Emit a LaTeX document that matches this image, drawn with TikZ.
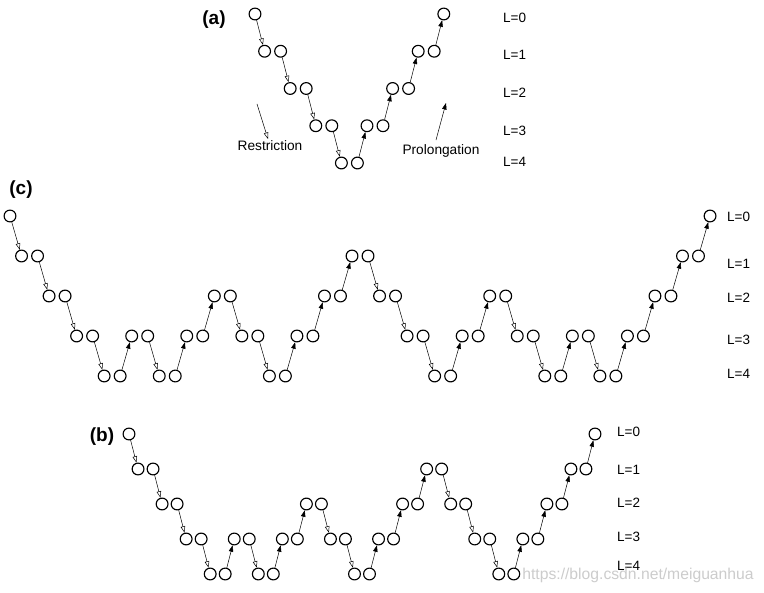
\documentclass[tikz,border=0pt]{standalone}
\usepackage{fontspec}
\setmainfont{Liberation Sans}
\usetikzlibrary{arrows.meta}

\tikzset{
  lvlnode/.style={circle, draw, line width=1.15pt, minimum size=11.8pt, inner sep=0pt},
  restrict/.style={line width=0.5pt, -{Triangle[open, length=6.5pt, width=4.5pt]}},
  prolong/.style={line width=0.5pt, -{Triangle[length=6.5pt, width=4.5pt]}},
  levlabel/.style={anchor=west, inner sep=0pt, font=\fontsize{13.5}{15}\selectfont},
  panel/.style={inner sep=0pt, font=\fontsize{19}{21}\selectfont\bfseries},
  caption/.style={inner sep=0pt, font=\fontsize{13.7}{15}\selectfont}
}

% name, x0, y0, period, gap, level step, levels (last one 0)
\newcommand{\drawcycle}[7]{%
  \node[lvlnode] (#1-0-r) at (#2,#3) {};
  \foreach \lvl [count=\k, remember=\lvl as \prev (initially 0), remember=\k as \j (initially 0)] in {#7} {
    \node[lvlnode] (#1-\k-l) at ({#2+\k*#4-#5},{#3+\lvl*#6}) {};
    \ifnum\lvl>0
      \node[lvlnode] (#1-\k-r) at ({#2+\k*#4},{#3+\lvl*#6}) {};
    \fi
    \ifnum\lvl>\prev
      \draw[restrict] (#1-\j-r) -- (#1-\k-l);
    \else
      \draw[prolong] (#1-\j-r) -- (#1-\k-l);
    \fi
  }%
}

\begin{document}
\begin{tikzpicture}[x=1pt, y=-1pt, line cap=round, line join=round]
  \useasboundingbox (0,0) rectangle (764,593);
  % (a) V-cycle
  \node[panel] (a-name) at (214,20) {(a)};
  \drawcycle{a}{255}{14}{25.6}{16}{37.25}{1,2,3,4,3,2,1,0}
  \foreach \lab/\yy in {0/18,1/55,2/93,3/131,4/162}
    \node[levlabel] (a-L\lab) at (503,\yy) {L=\lab};
  \node[caption] (a-restr) at (270,146) {Restriction};
  \node[caption] (a-prol) at (441,151) {Prolongation};
  \coordinate (a-rtail) at (257,104);
  \coordinate (a-rhead) at (268,139);
  \coordinate (a-ptail) at (436,140);
  \coordinate (a-phead) at (446,103);
  \draw[restrict] (a-rtail) -- (a-rhead);
  \draw[prolong] (a-ptail) -- (a-phead);
  % (c) W-cycle
  \node[panel] (c-name) at (21,190) {(c)};
  \drawcycle{c}{10}{216}{27.54}{16}{40}{1,2,3,4,3,4,3,2,3,4,3,2,1,2,3,4,3,2,3,4,3,4,3,2,1,0}
  \foreach \lab/\yy in {0/217,1/264,2/298,3/340,4/374}
    \node[levlabel] (c-L\lab) at (727,\yy) {L=\lab};
  % (b) F-cycle
  \node[panel] (b-name) at (102,437) {(b)};
  \drawcycle{b}{129}{434}{24.05}{15}{35}{1,2,3,4,3,4,3,2,3,4,3,2,1,2,3,4,3,2,1,0}
  \foreach \lab/\yy in {0/432,1/470,2/503,3/537,4/566}
    \node[levlabel] (b-L\lab) at (617,\yy) {L=\lab};
  % watermark
  \node[inner sep=0pt, text=gray!40, font=\fontsize{15.7}{17}\selectfont] (mark) at (638,575) {https://blog.csdn.net/meiguanhua};
\end{tikzpicture}
\end{document}
